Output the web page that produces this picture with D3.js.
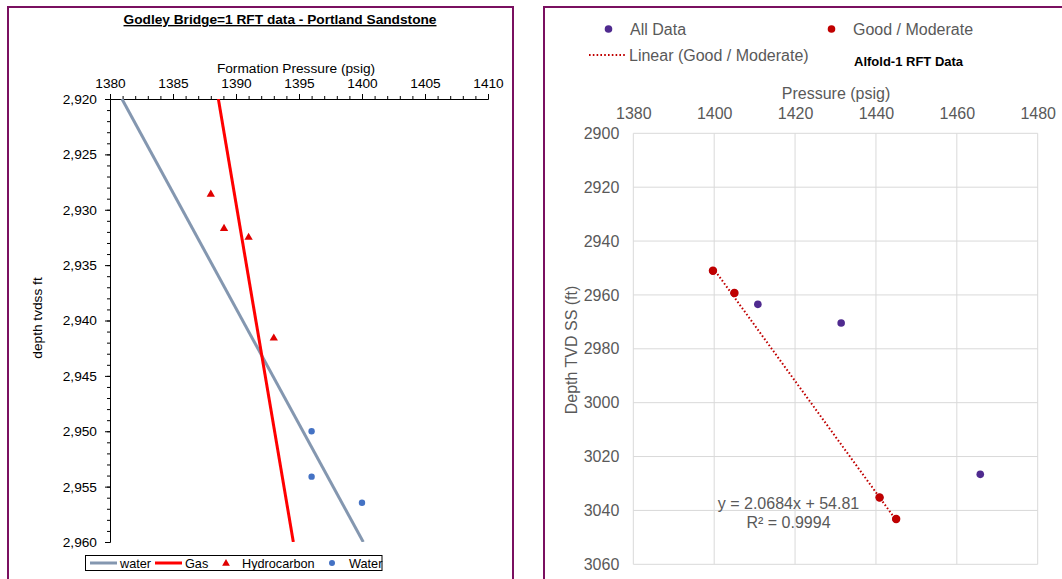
<!DOCTYPE html>
<html>
<head>
<meta charset="utf-8">
<script src="https://cdn.jsdelivr.net/npm/d3@7"></script>
<style>
  html, body { margin: 0; padding: 0; background: #fff; }
  svg { display: block; font-family: Arial, "Liberation Sans", sans-serif; }
</style>
</head>
<body>
<svg id="chart" width="1062" height="579"></svg>
<script>
// ---------- Godley Bridge-1 (left panel) ----------
const gbPressureTicks = [1380, 1385, 1390, 1395, 1400, 1405, 1410];
const gbDepthTicks = [2920, 2925, 2930, 2935, 2940, 2945, 2950, 2955, 2960];
// RFT samples: [pressure psig, depth tvdss ft]
const gbHydrocarbon = [[1388.0, 2928.6], [1389.05, 2931.7], [1391.0, 2932.5], [1393.0, 2941.6]];
const gbWater = [[1396.0, 2950.0], [1396.0, 2954.1], [1400.0, 2956.45]];
// Gradient lines, defined by their end points
const gbWaterLine = [[1380.95, 2920], [1400.1, 2960]];
const gbGasLine = [[1388.6, 2920], [1394.55, 2960]];

// ---------- Alfold-1 (right panel) ----------
const afPressureTicks = [1380, 1400, 1420, 1440, 1460, 1480];
const afDepthTicks = [2900, 2920, 2940, 2960, 2980, 3000, 3020, 3040, 3060];
const afAllData = [[1399.7, 2951.0], [1405.0, 2959.3], [1410.8, 2963.5], [1431.4, 2970.4],
                   [1440.9, 3035.2], [1445.0, 3043.2], [1465.8, 3026.6]];
const afGoodModerate = [[1399.7, 2951.0], [1405.0, 2959.3], [1440.9, 3035.2], [1445.0, 3043.2]];
const afTrendSlope = 2.0684;
const afTrendIntercept = 54.81;
const afTrendR2 = 0.9994;

const svg = d3.select("#chart");
const frameColor = "#7a1060";

// panel frames
svg.append("rect").attr("x", 8).attr("y", 7).attr("width", 505).attr("height", 600)
  .attr("fill", "none").attr("stroke", frameColor).attr("stroke-width", 2);
svg.append("rect").attr("x", 544).attr("y", 7).attr("width", 600).attr("height", 600)
  .attr("fill", "none").attr("stroke", frameColor).attr("stroke-width", 2);

// ===== Left chart =====
const L = svg.append("g");
const xL = d3.scaleLinear().domain([1380, 1410]).range([110, 488]);
const yL = d3.scaleLinear().domain([2920, 2960]).range([99, 542]);

L.append("text").attr("x", 280).attr("y", 24).attr("text-anchor", "middle")
  .attr("font-size", 13.7).attr("font-weight", "bold").attr("text-decoration", "underline")
  .attr("fill", "#000").text("Godley Bridge=1 RFT data - Portland Sandstone");

L.append("text").attr("x", 296).attr("y", 73).attr("text-anchor", "middle")
  .attr("font-size", 13.7).attr("fill", "#000").text("Formation Pressure (psig)");

L.append("text").attr("transform", "translate(42,318) rotate(-90)").attr("text-anchor", "middle")
  .attr("font-size", 13.7).attr("fill", "#000").text("depth tvdss ft");

// minor ticks
const minorX = d3.range(1380, 1410.01, 1);
const minorY = d3.range(2920, 2960.01, 1);
L.append("g").attr("transform", `translate(0,${yL(2920)})`)
  .call(d3.axisTop(xL).tickValues(minorX).tickSize(3).tickSizeOuter(0).tickFormat(""))
  .call(g => g.selectAll("line,path").attr("stroke", "#000"));
L.append("g").attr("transform", `translate(${xL(1380)},0)`)
  .call(d3.axisLeft(yL).tickValues(minorY).tickSize(3).tickSizeOuter(0).tickFormat(""))
  .call(g => g.selectAll("line,path").attr("stroke", "#000"));

// major ticks and labels
L.append("g").attr("transform", `translate(0,${yL(2920)})`)
  .call(d3.axisTop(xL).tickValues(gbPressureTicks).tickSize(5).tickSizeOuter(0).tickPadding(6).tickFormat(d3.format("d")))
  .call(g => g.selectAll("line,path").attr("stroke", "#000"))
  .call(g => g.selectAll("text").attr("font-size", 13.7).attr("fill", "#000").attr("font-family", null));
L.append("g").attr("transform", `translate(${xL(1380)},0)`)
  .call(d3.axisLeft(yL).tickValues(gbDepthTicks).tickSize(5).tickSizeOuter(0).tickPadding(8).tickFormat(d3.format(",")))
  .call(g => g.selectAll("line,path").attr("stroke", "#000"))
  .call(g => g.selectAll("text").attr("font-size", 13.7).attr("fill", "#000").attr("font-family", null));

L.append("clipPath").attr("id", "clipL").append("rect")
  .attr("x", 110).attr("y", 99).attr("width", 378).attr("height", 443);

const lineL = d3.line().x(d => xL(d[0])).y(d => yL(d[1]));
const plotL = L.append("g").attr("clip-path", "url(#clipL)");
plotL.append("path").datum(gbWaterLine).attr("d", lineL)
  .attr("stroke", "#8497b0").attr("stroke-width", 3).attr("fill", "none");
plotL.append("path").datum(gbGasLine).attr("d", lineL)
  .attr("stroke", "#ff0000").attr("stroke-width", 3).attr("fill", "none");

const tri = d3.symbol().type(d3.symbolTriangle).size(30);
L.append("g").selectAll("path").data(gbHydrocarbon).join("path")
  .attr("d", tri).attr("transform", d => `translate(${xL(d[0])},${yL(d[1])})`)
  .attr("fill", "#e00000");
L.append("g").selectAll("circle").data(gbWater).join("circle")
  .attr("cx", d => xL(d[0])).attr("cy", d => yL(d[1])).attr("r", 3.2)
  .attr("fill", "#4472c4");

// legend
const lg = L.append("g");
lg.append("rect").attr("x", 85.5).attr("y", 555.5).attr("width", 296.5).attr("height", 15)
  .attr("fill", "#fff").attr("stroke", "#000").attr("stroke-width", 1);
lg.append("line").attr("x1", 90).attr("x2", 117).attr("y1", 563).attr("y2", 563)
  .attr("stroke", "#8497b0").attr("stroke-width", 3);
lg.append("text").attr("x", 120).attr("y", 567.5).attr("font-size", 12.7).text("water");
lg.append("line").attr("x1", 155).attr("x2", 182).attr("y1", 563).attr("y2", 563)
  .attr("stroke", "#ff0000").attr("stroke-width", 3);
lg.append("text").attr("x", 185).attr("y", 567.5).attr("font-size", 12.7).text("Gas");
lg.append("path").attr("d", d3.symbol().type(d3.symbolTriangle).size(26))
  .attr("transform", "translate(226,563.5)").attr("fill", "#e00000");
lg.append("text").attr("x", 242).attr("y", 567.5).attr("font-size", 12.7).text("Hydrocarbon");
lg.append("circle").attr("cx", 332).attr("cy", 563).attr("r", 3).attr("fill", "#4472c4");
lg.append("text").attr("x", 349).attr("y", 567.5).attr("font-size", 12.7).text("Water");

// ===== Right chart =====
const R = svg.append("g");
const xR = d3.scaleLinear().domain([1380, 1480]).range([633.3, 1037.7]);
const yR = d3.scaleLinear().domain([2900, 3060]).range([133.3, 564.3]);
const grey = "#595959";

// gridlines
R.append("g").selectAll("line").data(afPressureTicks).join("line")
  .attr("x1", d => xR(d)).attr("x2", d => xR(d)).attr("y1", yR(2900)).attr("y2", yR(3060))
  .attr("stroke", "#d9d9d9").attr("stroke-width", 1);
R.append("g").selectAll("line").data(afDepthTicks).join("line")
  .attr("y1", d => yR(d)).attr("y2", d => yR(d)).attr("x1", xR(1380)).attr("x2", xR(1480))
  .attr("stroke", "#d9d9d9").attr("stroke-width", 1);

// tick labels
R.append("g").attr("transform", `translate(0,${yR(2900)})`)
  .call(d3.axisTop(xR).tickValues(afPressureTicks).tickSize(0).tickPadding(14).tickFormat(d3.format("d")))
  .call(g => g.select(".domain").remove())
  .call(g => g.selectAll("text").attr("font-size", 16).attr("fill", grey).attr("font-family", null));
R.append("g").attr("transform", `translate(${xR(1380)},0)`)
  .call(d3.axisLeft(yR).tickValues(afDepthTicks).tickSize(0).tickPadding(14).tickFormat(d3.format("d")))
  .call(g => g.select(".domain").remove())
  .call(g => g.selectAll("text").attr("font-size", 16).attr("fill", grey).attr("font-family", null));

R.append("text").attr("x", 836).attr("y", 99).attr("text-anchor", "middle")
  .attr("font-size", 16).attr("fill", grey).text("Pressure (psig)");
R.append("text").attr("transform", "translate(577,350) rotate(-90)").attr("text-anchor", "middle")
  .attr("font-size", 16).attr("fill", grey).text("Depth TVD SS (ft)");

// trendline over the Good / Moderate range
const pExt = d3.extent(afGoodModerate, d => d[0]);
const trend = pExt.map(p => [p, afTrendSlope * p + afTrendIntercept]);
R.append("path").datum(trend)
  .attr("d", d3.line().x(d => xR(d[0])).y(d => yR(d[1])))
  .attr("stroke", "#c00000").attr("stroke-width", 2).attr("stroke-dasharray", "1.6,2.2")
  .attr("fill", "none");

R.append("g").selectAll("circle").data(afAllData).join("circle")
  .attr("cx", d => xR(d[0])).attr("cy", d => yR(d[1])).attr("r", 3.8).attr("fill", "#4f2a8f");
R.append("g").selectAll("circle").data(afGoodModerate).join("circle")
  .attr("cx", d => xR(d[0])).attr("cy", d => yR(d[1])).attr("r", 4.2).attr("fill", "#c00000");

R.append("text").attr("x", 788.5).attr("y", 509).attr("text-anchor", "middle")
  .attr("font-size", 16).attr("fill", grey)
  .text(`y = ${afTrendSlope}x + ${afTrendIntercept}`);
R.append("text").attr("x", 788.5).attr("y", 527.5).attr("text-anchor", "middle")
  .attr("font-size", 16).attr("fill", grey).text(`R² = ${afTrendR2}`);

// legend
R.append("circle").attr("cx", 608.5).attr("cy", 29).attr("r", 3.8).attr("fill", "#4f2a8f");
R.append("text").attr("x", 630).attr("y", 34.5).attr("font-size", 16).attr("fill", grey).text("All Data");
R.append("circle").attr("cx", 831.5).attr("cy", 29).attr("r", 3.8).attr("fill", "#c00000");
R.append("text").attr("x", 853).attr("y", 34.5).attr("font-size", 16).attr("fill", grey).text("Good / Moderate");
R.append("line").attr("x1", 589).attr("x2", 626).attr("y1", 55).attr("y2", 55)
  .attr("stroke", "#c00000").attr("stroke-width", 2).attr("stroke-dasharray", "1.6,2.2");
R.append("text").attr("x", 629).attr("y", 60.5).attr("font-size", 16).attr("fill", grey).text("Linear (Good / Moderate)");
R.append("text").attr("x", 854).attr("y", 66).attr("font-size", 13).attr("font-weight", "bold")
  .attr("fill", "#000").text("Alfold-1 RFT Data");
</script>
</body>
</html>
